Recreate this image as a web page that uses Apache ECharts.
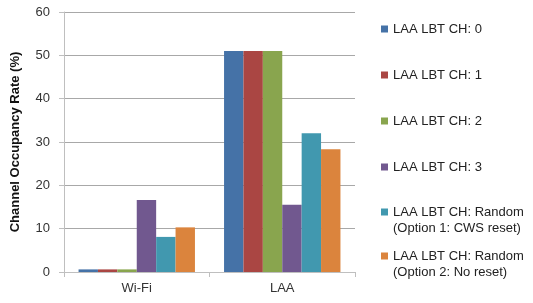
<!DOCTYPE html>
<html>
<head>
<meta charset="utf-8">
<script src="https://cdn.jsdelivr.net/npm/echarts@6/dist/echarts.min.js"></script>
<style>
  html, body { margin: 0; padding: 0; background: #fff; }
  #chart { width: 533px; height: 303px; }
</style>
</head>
<body>
<div id="chart"></div>
<script>
var categories = ['Wi-Fi', 'LAA'];
var seriesNames = [
  'LAA LBT CH: 0',
  'LAA LBT CH: 1',
  'LAA LBT CH: 2',
  'LAA LBT CH: 3',
  'LAA LBT CH: Random (Option 1: CWS reset)',
  'LAA LBT CH: Random (Option 2: No reset)'
];
var ch0 = [0.6, 51];
var ch1 = [0.6, 51];
var ch2 = [0.6, 51];
var ch3 = [16.6, 15.5];
var rnd1 = [8.1, 32];
var rnd2 = [10.3, 28.3];
var seriesValues = [ch0, ch1, ch2, ch3, rnd1, rnd2];
var colors = ['#4572A7', '#AA4643', '#89A54E', '#71588F', '#4198AF', '#DB843D'];
var yTicks = [0, 10, 20, 30, 40, 50, 60];

var FONT = 'Liberation Sans';
// first-line centre of each legend entry
var legendY = [29, 75, 121, 167, 212, 256];

var chart = echarts.init(document.getElementById('chart'));

// one legend per entry so the spacing can follow the picture;
// two-line names get an empty line on top so the square sits on line one
var legends = seriesNames.map(function(n, i) {
  var twoLine = n.indexOf(' (') > 0;
  return {
    data: [n],
    orient: 'vertical',
    left: 381,
    top: twoLine ? legendY[i] - 24 : legendY[i] - 8,
    padding: 0,
    icon: 'rect',
    itemWidth: 7,
    itemHeight: 7,
    itemGap: 0,
    selectedMode: false,
    formatter: function(name) {
      return name.indexOf(' (') > 0 ? ' \n' + name.replace(' (', '\n(') : name;
    },
    textStyle: { fontFamily: FONT, fontSize: 13, color: '#222', lineHeight: 16 }
  };
});

chart.setOption({
  animation: false,
  color: colors,
  textStyle: { fontFamily: FONT },
  legend: legends,
  grid: { left: 64, right: 178, top: 12, bottom: 31 },
  xAxis: {
    type: 'category',
    data: categories,
    axisLine: { lineStyle: { color: '#BFBFBF' } },
    axisTick: { show: true, length: 5, lineStyle: { color: '#BFBFBF' } },
    axisLabel: { fontFamily: FONT, fontSize: 13, color: '#333', margin: 10 }
  },
  yAxis: {
    type: 'value',
    min: yTicks[0],
    max: yTicks[yTicks.length - 1],
    interval: 10,
    name: 'Channel Occupancy Rate (%)',
    nameLocation: 'middle',
    nameGap: 42,
    nameTextStyle: { fontFamily: FONT, fontSize: 13, fontWeight: 'bold', color: '#111' },
    axisLine: { show: true, lineStyle: { color: '#BFBFBF' } },
    axisTick: { show: true, length: 5, lineStyle: { color: '#BFBFBF' } },
    axisLabel: { fontFamily: FONT, fontSize: 13, color: '#333', margin: 14 },
    splitLine: { lineStyle: { color: '#A8A8A8' } }
  },
  series: seriesNames.map(function(n, i) {
    return {
      name: n,
      type: 'bar',
      data: seriesValues[i],
      barGap: 0,
      barCategoryGap: '20%',
      itemStyle: { color: colors[i] }
    };
  })
});
</script>
</body>
</html>
